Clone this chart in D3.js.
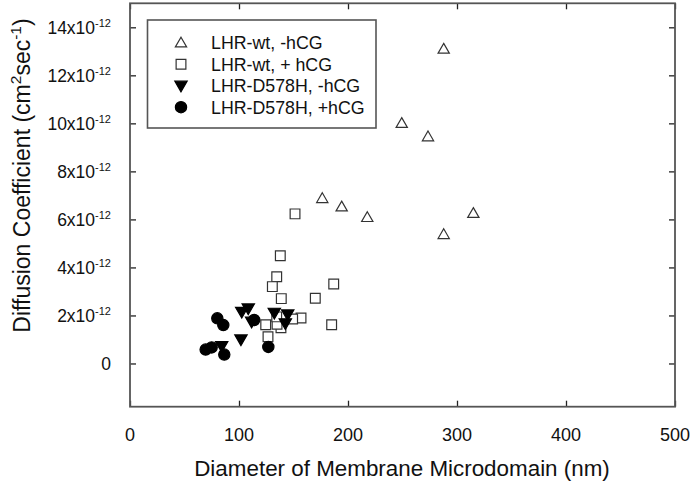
<!DOCTYPE html>
<html><head><meta charset="utf-8">
<script src="https://cdn.jsdelivr.net/npm/d3@7"></script>
<style>body{margin:0;background:#fff}svg text{font-family:"Liberation Sans",Arial,sans-serif;fill:#111}</style>
</head><body>
<svg id="c" width="695" height="487"></svg>
<script>
// Data (diameter nm, D in units of 1e-12 cm^2/s)
const wtMinus = [[287.8,13.10],[249.3,10.01],[273.4,9.45],[176.4,6.88],[194.2,6.53],[217.7,6.09],[315.0,6.26],[287.8,5.38]];
const wtPlus = [[151.4,6.23],[137.9,4.49],[134.6,3.61],[130.6,3.20],[186.9,3.31],[138.8,2.70],[170.0,2.72],[156.9,1.89],[185.0,1.61],[149.2,1.85],[124.5,1.61],[138.5,1.49],[126.6,1.11],[134.9,1.63],[134.6,1.94]];
const mutMinus = [[102.5,2.15],[108.5,2.29],[111.6,1.74],[101.8,1.00],[84.1,0.72],[132.4,2.11],[144.7,2.04],[142.5,1.67]];
const mutPlus = [[80.1,1.88],[85.6,1.60],[113.9,1.81],[69.4,0.58],[74.9,0.67],[86.5,0.37],[126.9,0.69]];
const legendLabels = ["LHR-wt, -hCG","LHR-wt, + hCG","LHR-D578H, -hCG","LHR-D578H, +hCG"];
const xTicks = [0,100,200,300,400,500];
const yTicks = [0,2,4,6,8,10,12,14];

const svg = d3.select("#c");
const L=130,R=675,T=3.3,B=406.7;
const x = d3.scaleLinear().domain([0,500]).range([L,R]);
const y = d3.scaleLinear().domain([-1.8,15]).range([B,T]);
const axisColor="#555";

// ticks via d3 axes (inward)
const gB = svg.append("g").attr("transform",`translate(0,${B})`).call(d3.axisBottom(x).tickValues(xTicks).tickSize(-6).tickFormat(""));
const gT = svg.append("g").attr("transform",`translate(0,${T})`).call(d3.axisTop(x).tickValues(xTicks).tickSize(-6).tickFormat(""));
const gL = svg.append("g").attr("transform",`translate(${L},0)`).call(d3.axisLeft(y).tickValues(yTicks).tickSize(-6).tickFormat(""));
const gR = svg.append("g").attr("transform",`translate(${R},0)`).call(d3.axisRight(y).tickValues(yTicks).tickSize(-6).tickFormat(""));
[gB,gT,gL,gR].forEach(g=>{g.select(".domain").remove();g.selectAll("line").attr("stroke","#222").attr("stroke-width",1.3);});
svg.append("rect").attr("x",L).attr("y",T).attr("width",R-L).attr("height",B-T)
  .attr("fill","none").attr("stroke",axisColor).attr("stroke-width",1.8);

// x tick labels
svg.append("g").selectAll("text").data(xTicks).join("text")
  .attr("x",d=>x(d)).attr("y",441).attr("text-anchor","middle").attr("font-size",18).text(d=>d);
// y tick labels
const yl = svg.append("g").selectAll("text").data(yTicks).join("text")
  .attr("x",111).attr("y",d=>y(d)+6.5).attr("text-anchor","end").attr("font-size",17.5);
yl.each(function(d){
  const t=d3.select(this);
  if(d===0){t.text("0");return;}
  t.append("tspan").text(d+"x10");
  t.append("tspan").attr("font-size",11).attr("dy",-7).text("-12");
});

// axis titles
svg.append("text").attr("x",(194+610)/2).attr("y",476).attr("text-anchor","middle").attr("font-size",22.4)
  .text("Diameter of Membrane Microdomain (nm)");
const yt = svg.append("text").attr("transform","translate(30,175.5) rotate(-90)").attr("text-anchor","middle").attr("font-size",23);
yt.append("tspan").text("Diffusion Coefficient (cm");
yt.append("tspan").attr("font-size",15.5).attr("dy",-9).text("2");
yt.append("tspan").attr("dy",9).text("sec");
yt.append("tspan").attr("font-size",15.5).attr("dy",-9).text("-1");
yt.append("tspan").attr("dy",9).text(")");

// symbols
const triUp = d3.symbol().type(d3.symbolTriangle).size(55);
const square = d3.symbol().type(d3.symbolSquare).size(95);
const triDown = d3.symbol().type(d3.symbolTriangle).size(66);
const circ = d3.symbol().type(d3.symbolCircle).size(100);
const styles = [
  {gen:triUp, fill:"none", rot:0, dy:1},
  {gen:square, fill:"#fff", rot:0, dy:0},
  {gen:triDown, fill:"#000", rot:180, dy:-1},
  {gen:circ, fill:"#000", rot:0, dy:0}
];
function draw(data, s){
  svg.append("g").selectAll("path").data(data).join("path")
    .attr("d",s.gen())
    .attr("transform",d=>`translate(${x(d[0])},${y(d[1])+s.dy}) rotate(${s.rot})`)
    .attr("fill",s.fill).attr("stroke",s.fill==="#000"?"#000":"#333").attr("stroke-width",1.2);
}
draw(wtMinus,styles[0]);
draw(wtPlus,styles[1]);
draw(mutMinus,styles[2]);
draw(mutPlus,styles[3]);

// legend
svg.append("rect").attr("x",147.5).attr("y",20).attr("width",228.5).attr("height",108)
  .attr("fill","#fff").attr("stroke",axisColor).attr("stroke-width",1.6);
const rows=[42.7,64.2,85.7,107.2];
legendLabels.forEach((lab,i)=>{
  const s=styles[i];
  svg.append("path").attr("d",s.gen()).attr("transform",`translate(181,${rows[i]+s.dy}) rotate(${s.rot})`)
    .attr("fill",s.fill).attr("stroke",s.fill==="#000"?"#000":"#333").attr("stroke-width",1.2);
  svg.append("text").attr("x",211).attr("y",rows[i]+6.3).attr("font-size",17.8).text(lab);
});
</script>
</body></html>
